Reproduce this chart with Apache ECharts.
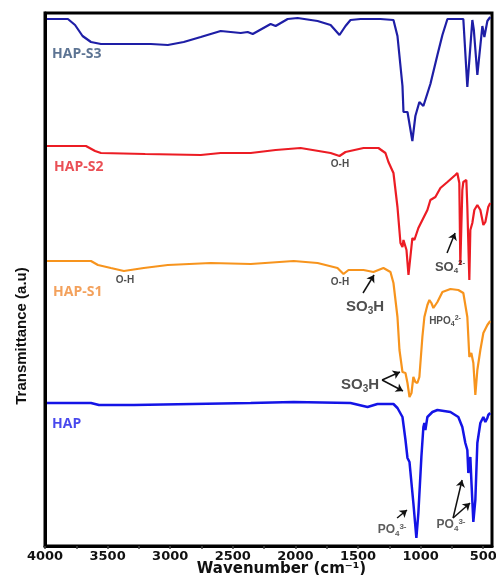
<!DOCTYPE html>
<html>
<head>
<meta charset="utf-8">
<script src="https://cdn.jsdelivr.net/npm/echarts@6/dist/echarts.min.js"></script>
<style>html,body{margin:0;padding:0;background:#fff}#c{width:496px;height:575px}</style>
</head>
<body>
<div id="c"></div>
<script>
// ---- data (wavenumber cm-1, transmittance a.u., offset spectra) ----
const tickLabels = [4000, 3500, 3000, 2500, 2000, 1500, 1000, 500];
const tickMarks = [4000, 3750, 3500, 3250, 3000, 2750, 2500, 2250, 2000, 1750, 1500, 1250, 1000, 750, 500];

const hapS3_wn = [3984,3817,3760,3700,3633,3553,3400,3155,3019,2892,2756,2597,2437,2381,2341,2198,2158,2062,1983,1823,1719,1648,1600,1560,1480,1321,1217,1185,1145,1137,1105,1066,1042,1010,978,922,866,826,786,659,627,587,575,547,507,491,467,444];
const hapS3_t  = [527,527,521,510,504,502,502,502,501,504,509,515,513,514,512,522,520,527,528,525,521,511,520,526,527,527,526,510,460,434,434,405,430,444,440,462,491,511,527,527,459,526,516,471,520,509,525,529];

const hapS2_wn = [3984,3673,3600,3553,3200,2756,2597,2357,2158,1959,1719,1648,1600,1456,1337,1281,1257,1217,1185,1161,1145,1137,1113,1097,1066,1050,1018,986,946,922,882,842,786,723,707,691,683,667,659,635,627,611,603,587,571,547,523,499,483,460,444];
const hapS2_t  = [400,400,395,393,392,391,393,393,396,398,393,390,394,398,398,393,384,373,339,303,299,306,296,271,308,306,318,326,336,346,349,358,364,371,373,363,281,356,364,366,339,266,316,323,336,341,336,321,324,339,343];

const hapS1_wn = [3984,3633,3577,3474,3370,3211,3019,2676,2357,2014,1823,1664,1616,1576,1456,1377,1297,1241,1217,1185,1169,1145,1121,1105,1089,1073,1058,1042,1026,1010,986,970,946,930,914,898,866,826,762,699,659,627,611,595,579,563,547,523,499,467,444];
const hapS1_t  = [285,285,281,278,275,278,281,283,282,285,283,278,272,276,276,274,278,274,263,229,196,174,173,163,149,153,169,164,163,169,209,229,241,246,243,238,244,254,257,256,253,229,189,193,183,151,176,196,213,221,225];

const hap_wn = [3984,3633,3569,3290,2357,2014,1560,1424,1345,1217,1185,1145,1121,1105,1089,1058,1034,1018,994,978,970,962,946,906,866,762,699,667,643,627,619,603,595,579,563,547,523,499,483,467,460,444];
const hap_t  = [143,143,141,141,143,144,143,139,142,142,138,129,106,88,84,43,8,33,89,119,123,116,129,134,136,134,129,119,103,96,73,89,66,24,46,103,123,129,124,128,131,133];

// annotation texts [label, wavenumber, value]
const sampleNames = ['HAP-S3', 'HAP-S2', 'HAP-S1', 'HAP'];
const sampleLabelPos = [[3944, 492], [3928, 379], [3936, 254], [3944, 122]];
const bandLabels = [
  ['{b|O-H}', 1644, 382],
  ['{b|O-H}', 3361, 266],
  ['{b|O-H}', 1644, 264],
  ['{l|SO}{ls|3}{l|H}', 1444, 239],
  ['{m|SO}{ms|4}{mp|2-}', 765, 279],
  ['{b|HPO}{bs|4}{bp|2-}', 805, 225],
  ['{l|SO}{ls|3}{l|H}', 1484, 161],
  ['{p|PO}{ps|4}{pp|3-}', 1228, 16],
  ['{p|PO}{ps|4}{pp|3-}', 757, 21]
];
const arrows = [
  [1460, 253, 1372, 271],
  [789, 293, 725, 313],
  [1308, 166, 1165, 174],
  [1308, 166, 1141, 155],
  [1188, 28, 1109, 36],
  [741, 28, 669, 66],
  [741, 28, 605, 43]
];

const lineColors = ['#1e1ea6', '#ec1c24', '#f7941d', '#1414e6'];
const nameColors = ['#355178', '#e5232a', '#f08a33', '#1a1ae8'];

function zip(a, b) { return a.map((v, i) => [v, b[i]]); }
const spectra = [zip(hapS3_wn, hapS3_t), zip(hapS2_wn, hapS2_t), zip(hapS1_wn, hapS1_t), zip(hap_wn, hap_t)];

const series = spectra.map((d, i) => ({
  type: 'line', name: sampleNames[i], data: d, symbol: 'none', smooth: false,
  lineStyle: { color: lineColors[i], width: i === 3 ? 2.5 : 2.2 }, silent: true, z: 3
}));

series.push({
  type: 'scatter', silent: true, symbolSize: 0, z: 5,
  data: sampleNames.map((n, i) => ({ value: sampleLabelPos[i], name: n, itemStyle: { color: nameColors[i] },
    label: { color: nameColors[i] } })),
  label: { show: true, position: 'right', distance: 0, formatter: p => p.name,
    fontFamily: 'Open Sans', fontWeight: 'bold', fontSize: 14 }
});

const rich = {
  b: { fontSize: 10, fontWeight: 'bold', color: '#222', fontFamily: 'Liberation Sans' },
  bs: { fontSize: 7, fontWeight: 'bold', color: '#222', padding: [6, 0, 0, 0], fontFamily: 'Liberation Sans' },
  bp: { fontSize: 7, fontWeight: 'bold', color: '#222', padding: [0, 0, 6, 0], fontFamily: 'Liberation Sans' },
  l: { fontSize: 15, fontWeight: 'bold', color: '#222', fontFamily: 'Liberation Sans' },
  ls: { fontSize: 10, fontWeight: 'bold', color: '#222', padding: [8, 0, 0, 0], fontFamily: 'Liberation Sans' },
  m: { fontSize: 13, fontWeight: 'bold', color: '#222', fontFamily: 'Liberation Sans' },
  ms: { fontSize: 8, fontWeight: 'bold', color: '#222', padding: [7, 0, 0, 0], fontFamily: 'Liberation Sans' },
  mp: { fontSize: 8, fontWeight: 'bold', color: '#222', padding: [0, 0, 8, 0], fontFamily: 'Liberation Sans' },
  p: { fontSize: 12, fontWeight: 'bold', color: '#333', fontFamily: 'Liberation Sans' },
  ps: { fontSize: 8, fontWeight: 'bold', color: '#333', padding: [7, 0, 0, 0], fontFamily: 'Liberation Sans' },
  pp: { fontSize: 8, fontWeight: 'bold', color: '#333', padding: [0, 0, 7, 0], fontFamily: 'Liberation Sans' }
};

series.push({
  type: 'scatter', silent: true, symbolSize: 0, z: 5,
  data: bandLabels.map(b => ({ value: [b[1], b[2]], name: b[0] })),
  label: { show: true, position: 'inside', formatter: p => p.name, rich: rich },
  markLine: {
    silent: true, symbol: ['none', 'arrow'], symbolSize: 7, animation: false,
    lineStyle: { color: '#111', width: 1.5, type: 'solid' }, label: { show: false },
    data: arrows.map(a => [{ coord: [a[0], a[1]] }, { coord: [a[2], a[3]] }])
  }
});

const chart = echarts.init(document.getElementById('c'));
chart.setOption({
  animation: false,
  backgroundColor: '#fff',
  grid: { left: 45, right: 4, top: 13, bottom: 29, show: true, borderColor: '#000', borderWidth: 3,
    containLabel: false, outerBoundsMode: 'none' },
  xAxis: {
    type: 'value', inverse: true, min: 430, max: 4000,
    name: 'Wavenumber (cm⁻¹)', nameLocation: 'middle', nameGap: 16, nameMoveOverlap: false,
    nameTextStyle: { fontFamily: 'DejaVu Sans', fontWeight: 'bold', fontSize: 15, color: '#111', padding: [0, 0, 0, 26] },
    axisLine: { lineStyle: { color: '#000', width: 3 } },
    axisTick: { show: true, length: 3, customValues: tickMarks, lineStyle: { color: '#444', width: 1.5 } },
    axisLabel: { customValues: tickLabels, formatter: v => String(v), fontFamily: 'DejaVu Sans', fontWeight: 'bold',
      fontSize: 13, color: '#111', margin: 4, hideOverlap: false },
    splitLine: { show: false }
  },
  yAxis: {
    type: 'value', min: 0, max: 533,
    axisLine: { show: true, lineStyle: { color: '#000', width: 3 } },
    axisTick: { show: false }, axisLabel: { show: false }, splitLine: { show: false }
  },
  graphic: [{
    type: 'text', x: 22, y: 336, rotation: Math.PI / 2,
    style: { text: 'Transmittance (a.u)', fontFamily: 'Liberation Sans', fontWeight: 'bold', fontSize: 15,
      fill: '#111', align: 'center', verticalAlign: 'middle' }
  }],
  series: series
});
</script>
</body>
</html>
